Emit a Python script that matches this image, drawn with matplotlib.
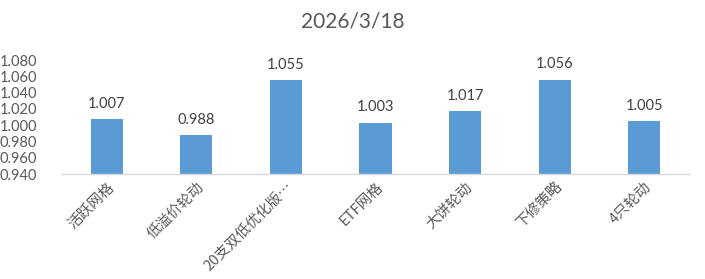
import matplotlib
matplotlib.use("Agg")
import matplotlib.pyplot as plt
from matplotlib.ticker import FixedLocator

categories = ["活跃网格", "低溢价轮动", "20支双低优化版…", "ETF网格", "大饼轮动", "下修策略", "4只轮动"]
values = [1.007, 0.988, 1.055, 1.003, 1.017, 1.056, 1.005]
yticks = [0.940, 0.960, 0.980, 1.000, 1.020, 1.040, 1.060, 1.080]
title = "2026/3/18"

plt.rcParams['font.family'] = ['Lato', 'Noto Sans CJK SC', 'DejaVu Sans']

fig = plt.figure(figsize=(7.05, 2.79), dpi=100)
ax = fig.add_axes([62/705, 1-174/279, (689-62)/705, (174-60)/279])

x = list(range(len(categories)))
ax.bar(x, values, width=0.36, color="#5B9BD5", bottom=0, zorder=2)
ax.set_xlim(-0.5, len(categories) - 0.5)
ax.set_ylim(0.940, 1.080)
ax.yaxis.set_major_locator(FixedLocator(yticks))
ax.set_yticklabels([f"{v:.3f}" for v in yticks], fontsize=10.5, color="#595959")
ax.tick_params(axis='y', length=0, pad=18)
ax.tick_params(axis='x', length=0, pad=4)

ax.set_xticks(x)
ax.set_xticklabels(categories, rotation=45, ha='right', va='top', rotation_mode='anchor',
                   fontsize=10.5, color="#595959", family=['Noto Sans CJK SC', 'DejaVu Sans'])

for s in ['top', 'right', 'left']:
    ax.spines[s].set_visible(False)
ax.spines['bottom'].set_color("#D9D9D9")
ax.spines['bottom'].set_linewidth(1)

for xi, v in zip(x, values):
    ax.annotate(f"{v:.3f}", (xi, v), xytext=(0, 6), textcoords='offset points',
                ha='center', va='bottom', fontsize=10.5, color="#404040")

fig.text(0.5, 1 - 22/279, title, ha='center', va='center', fontsize=15, color="#595959")

fig.savefig("out.png", dpi=100)
